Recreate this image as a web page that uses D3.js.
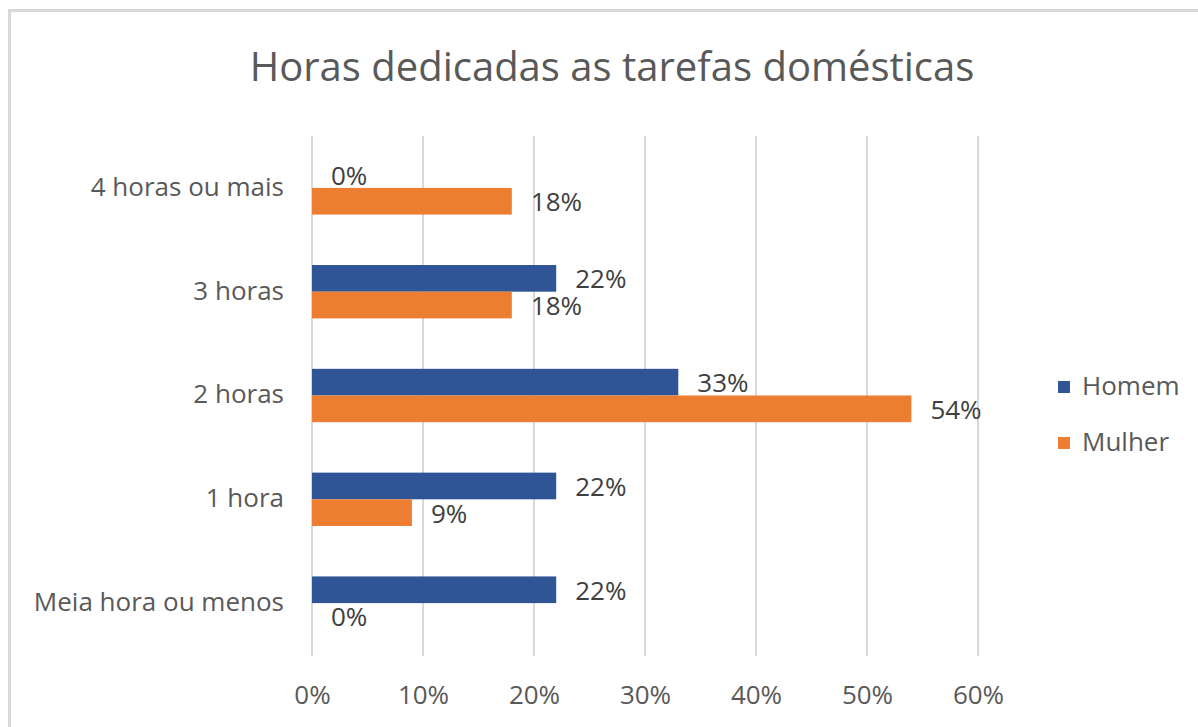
<!DOCTYPE html>
<html>
<head>
<meta charset="utf-8">
<script src="https://cdn.jsdelivr.net/npm/d3@7"></script>
<style>
  body { margin: 0; background: #fff; }
  svg { display: block; font-family: "Open Sans", sans-serif; }
</style>
</head>
<body>
<div id="chart"></div>
<script>
// Data
const categories = ["Meia hora ou menos", "1 hora", "2 horas", "3 horas", "4 horas ou mais"];
const seriesNames = ["Homem", "Mulher"];
const homem = [0.22, 0.22, 0.33, 0.22, 0.00];
const mulher = [0.00, 0.09, 0.54, 0.18, 0.18];
const ticks = [0, 0.1, 0.2, 0.3, 0.4, 0.5, 0.6];
const colors = ["#2F5597", "#ED7D31"];

const width = 1198, height = 727;
const svg = d3.select("#chart").append("svg")
  .attr("width", width)
  .attr("height", height);

// chart border
svg.append("rect")
  .attr("x", 9.5).attr("y", 10.5)
  .attr("width", 1200).attr("height", 730)
  .attr("fill", "#fff")
  .attr("stroke", "#d9d9d9")
  .attr("stroke-width", 3);

// title
svg.append("text")
  .attr("x", 612).attr("y", 70)
  .attr("text-anchor", "middle")
  .attr("dominant-baseline", "middle")
  .attr("fill", "#595959")
  .style("font-size", "40px")
  .text("Horas dedicadas as tarefas domésticas");

const x = d3.scaleLinear().domain([0, 0.6]).range([312, 978]);

// categories top to bottom in reversed order
const y = d3.scaleBand()
  .domain(categories.slice().reverse())
  .range([136, 655])
  .paddingInner(0.486)
  .paddingOuter(0.243);

const sub = d3.scaleBand()
  .domain(seriesNames)
  .range([0, y.bandwidth()]);

// gridlines
svg.append("g")
  .selectAll("line")
  .data(ticks)
  .join("line")
  .attr("x1", d => x(d)).attr("x2", d => x(d))
  .attr("y1", 136).attr("y2", 656)
  .attr("stroke", "#d9d9d9")
  .attr("stroke-width", 2);

// x axis labels
const xAxis = svg.append("g")
  .attr("transform", "translate(0,697)")
  .call(d3.axisBottom(x).tickValues(ticks).tickFormat(d3.format(".0%")).tickSize(0).tickPadding(0));
xAxis.select(".domain").remove();
xAxis.selectAll("text")
  .attr("dy", null)
  .attr("y", 0)
  .attr("dominant-baseline", "middle")
  .attr("fill", "#595959")
  .style("font-family", "Open Sans")
  .style("font-size", "26px");

// y axis labels
const yAxis = svg.append("g")
  .attr("transform", "translate(284,1)")
  .call(d3.axisLeft(y).tickSize(0).tickPadding(0));
yAxis.select(".domain").remove();
yAxis.selectAll("text")
  .attr("dy", null)
  .attr("dominant-baseline", "middle")
  .attr("fill", "#595959")
  .style("font-family", "Open Sans")
  .style("font-size", "26px");

const rows = categories.map((c, i) => ({ cat: c, Homem: homem[i], Mulher: mulher[i] }));
const flat = [];
rows.forEach(r => seriesNames.forEach((s, j) => flat.push({ cat: r.cat, series: s, value: r[s], color: colors[j] })));

// bars
svg.append("g")
  .selectAll("rect")
  .data(flat)
  .join("rect")
  .attr("x", x(0))
  .attr("y", d => y(d.cat) + sub(d.series))
  .attr("width", d => x(d.value) - x(0))
  .attr("height", sub.bandwidth())
  .attr("fill", d => d.color);

// data labels
svg.append("g")
  .selectAll("text")
  .data(flat)
  .join("text")
  .attr("x", d => x(d.value) + 19)
  .attr("y", d => y(d.cat) + sub(d.series) + sub.bandwidth() / 2 + 3)
  .attr("dominant-baseline", "middle")
  .attr("fill", "#404040")
  .style("font-size", "26px")
  .text(d => d3.format(".0%")(d.value));

// legend
const legend = svg.append("g")
  .selectAll("g")
  .data(seriesNames)
  .join("g")
  .attr("transform", (d, i) => `translate(1058,${387 + i * 56})`);
legend.append("rect")
  .attr("x", 0).attr("y", -6)
  .attr("width", 12).attr("height", 12)
  .attr("fill", (d, i) => colors[i]);
legend.append("text")
  .attr("x", 24).attr("y", 1)
  .attr("dominant-baseline", "middle")
  .attr("fill", "#595959")
  .style("font-size", "26px")
  .text(d => d);
</script>
</body>
</html>
